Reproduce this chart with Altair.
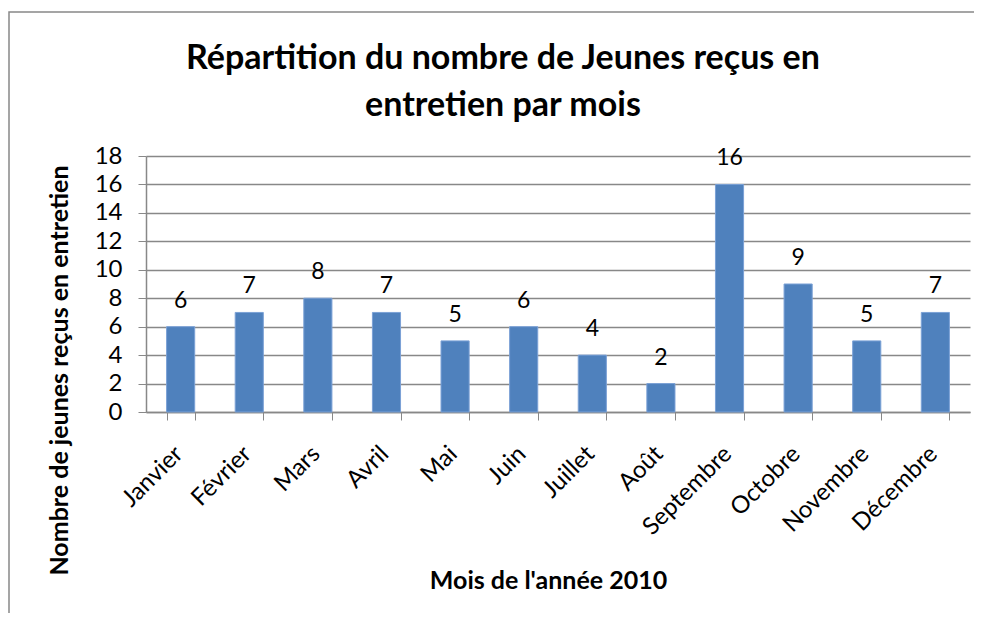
import altair as alt
import pandas as pd

mois = ["Janvier", "Février", "Mars", "Avril", "Mai", "Juin", "Juillet",
        "Août", "Septembre", "Octobre", "Novembre", "Décembre"]
valeurs = [6, 7, 8, 7, 5, 6, 4, 2, 16, 9, 5, 7]
graduations = [0, 2, 4, 6, 8, 10, 12, 14, 16, 18]

df = pd.DataFrame({"mois": mois, "valeur": valeurs})

FONT = "Lato"
PL, PT = 138, 148
W, H = 824, 256

x = alt.X("mois:N", sort=mois, title="Mois de l'année 2010",
          scale=alt.Scale(paddingInner=0.59, paddingOuter=0.3),
          axis=alt.Axis(labelAngle=-45, labelAlign="right", labelBaseline="middle",
                        labelFontSize=24, labelFont=FONT, labelColor="black",
                        labelPadding=30, labelOffset=-2, labelOverlap=False,
                        tickBand="extent", tickSize=8, tickColor="#888888",
                        domainColor="#888888", domainWidth=1.5,
                        titleFont=FONT, titleFontSize=25, titleFontWeight="bold",
                        titleColor="black", titleX=402, titleY=168,
                        titleBaseline="middle"))
y = alt.Y("valeur:Q", title="Nombre de jeunes reçus en entretien",
          scale=alt.Scale(domain=[0, 18], nice=False),
          axis=alt.Axis(values=graduations, labelFontSize=24, labelOverlap=False,
                        labelFont=FONT, labelColor="black", labelPadding=16,
                        tickSize=8, tickColor="#888888", domainColor="#888888",
                        domainWidth=1.5, gridColor="#888888", gridWidth=1.5,
                        titleFont=FONT, titleFontSize=25, titleFontWeight="bold",
                        titleColor="black", titleX=-74, titleY=214,
                        titleAngle=-90, titleAlign="center", titleBaseline="bottom"))

bars = alt.Chart(df).mark_bar(color="#4F81BD", stroke="#7BA1D6", strokeWidth=1).encode(x=x, y=y)
labels = alt.Chart(df).mark_text(baseline="alphabetic", dy=-19, fontSize=23, font=FONT,
                                 color="black").encode(x=x, y=y, text="valeur:Q")

border = alt.Chart(pd.DataFrame({"a": [0]})).mark_rect(
    fill=None, stroke="#888888", strokeWidth=1.5).encode(
    x=alt.value(9 - 8 - PL), x2=alt.value(W + 100),
    y=alt.value(12 - 8 - PT), y2=alt.value(H + 300))

chart = alt.layer(border, bars, labels).properties(
    width=W, height=H,
    padding={"left": PL, "top": PT, "right": 966 - PL - W, "bottom": 605 - PT - H},
    autosize=alt.AutoSizeParams(type="none"),
    title=alt.Title(["Répartition du nombre de Jeunes reçus en", "entretien par mois"],
                    font=FONT, fontSize=34, fontWeight="bold", color="black",
                    anchor="middle", frame="group", dx=-55, offset=-112, lineHeight=47)
).configure_view(stroke=None)

chart.save("out.html", embed_options={"renderer": "svg", "actions": False})
